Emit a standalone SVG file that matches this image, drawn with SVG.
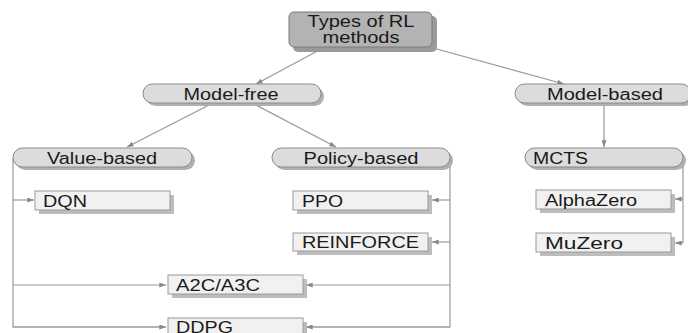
<svg xmlns="http://www.w3.org/2000/svg" width="688" height="333" viewBox="0 0 688 333">
<defs>
<marker id="ah" viewBox="0 0 8 6" refX="8" refY="3" markerWidth="7" markerHeight="5" orient="auto" markerUnits="userSpaceOnUse">
<path d="M0,0 L8,3 L0,6 Z" fill="#888"/>
</marker>
</defs>
<style>
.t{font-family:"Liberation Sans",Arial,sans-serif;font-size:16px;fill:#1a1a1a}
.pill{fill:#dcdcdc;stroke:#8a8a8a;stroke-width:1}
.psh{fill:#b0b0b0}
.box{fill:#f1f1f1;stroke:#9a9a9a;stroke-width:1}
.bsh{fill:#bdbdbd}
.root{fill:#b3b3b3;stroke:#7a7a7a;stroke-width:1}
.rsh{fill:#9a9a9a}
.c{fill:none;stroke:#999;stroke-width:1.2}
.ca{fill:none;stroke:#999;stroke-width:1.2;marker-end:url(#ah)}
</style>
<rect width="688" height="333" fill="#fff"/>
<g id="connectors">
<path class="ca" d="M323,48 L256,84"/>
<path class="ca" d="M433,48 L564,84"/>
<path class="ca" d="M213,103 L127,147"/>
<path class="ca" d="M252,103 L336,147"/>
<path class="ca" d="M604,103 L604,147"/>
<path class="c" d="M13,158 V327 H166"/>
<path class="ca" d="M13,200 H34"/>
<path class="ca" d="M13,285 H166"/>
<path class="ca" d="M13,327 H166"/>
<path class="c" d="M450,158 V327 H306"/>
<path class="ca" d="M450,200 H432"/>
<path class="ca" d="M450,242 H432"/>
<path class="ca" d="M450,285 H306"/>
<path class="ca" d="M450,327 H306"/>
<path class="c" d="M683,158 V243"/>
<path class="ca" d="M683,199 H675"/>
<path class="ca" d="M683,243 H675"/>
</g>
<g id="root">
<rect class="rsh" x="293" y="16" width="144" height="36" rx="5"/>
<rect class="root" x="289" y="12" width="143" height="35" rx="5"/>
<text class="t" x="361" y="27" text-anchor="middle" textLength="107" lengthAdjust="spacingAndGlyphs">Types of RL</text>
<text class="t" x="361" y="43" text-anchor="middle" textLength="77" lengthAdjust="spacingAndGlyphs">methods</text>
</g>
<g id="model-free">
<rect class="psh" x="146" y="87" width="178" height="19" rx="9.5"/>
<rect class="pill" x="143" y="84" width="178" height="19" rx="9.5"/>
<text class="t" x="231" y="99.5" text-anchor="middle" textLength="95" lengthAdjust="spacingAndGlyphs">Model-free</text>
</g>
<g id="model-based">
<rect class="psh" x="518" y="87" width="176" height="19" rx="9.5"/>
<rect class="pill" x="515" y="84" width="176" height="19" rx="9.5"/>
<text class="t" x="605" y="99.5" text-anchor="middle" textLength="116" lengthAdjust="spacingAndGlyphs">Model-based</text>
</g>
<g id="value-based">
<rect class="psh" x="16" y="151" width="179" height="19" rx="9.5"/>
<rect class="pill" x="13" y="148" width="179" height="19" rx="9.5"/>
<text class="t" x="102" y="163.5" text-anchor="middle" textLength="110" lengthAdjust="spacingAndGlyphs">Value-based</text>
</g>
<g id="policy-based">
<rect class="psh" x="275" y="151" width="178" height="19" rx="9.5"/>
<rect class="pill" x="272" y="148" width="178" height="19" rx="9.5"/>
<text class="t" x="361" y="163.5" text-anchor="middle" textLength="115" lengthAdjust="spacingAndGlyphs">Policy-based</text>
</g>
<g id="mcts">
<rect class="psh" x="528" y="151" width="158" height="19" rx="9.5"/>
<rect class="pill" x="525" y="148" width="158" height="19" rx="9.5"/>
<text class="t" x="533" y="163.5" textLength="55" lengthAdjust="spacingAndGlyphs">MCTS</text>
</g>
<g id="dqn">
<rect class="bsh" x="39" y="195" width="135" height="19"/>
<rect class="box" x="35" y="191" width="135" height="19"/>
<text class="t" x="43" y="206.5" textLength="44" lengthAdjust="spacingAndGlyphs">DQN</text>
</g>
<g id="ppo">
<rect class="bsh" x="297" y="195" width="135" height="19"/>
<rect class="box" x="293" y="191" width="135" height="19"/>
<text class="t" x="302" y="206.5" textLength="41" lengthAdjust="spacingAndGlyphs">PPO</text>
</g>
<g id="reinforce">
<rect class="bsh" x="297" y="237" width="135" height="18"/>
<rect class="box" x="293" y="233" width="135" height="18"/>
<text class="t" x="302" y="248" textLength="117" lengthAdjust="spacingAndGlyphs">REINFORCE</text>
</g>
<g id="alphazero">
<rect class="bsh" x="540" y="194" width="135" height="19"/>
<rect class="box" x="536" y="190" width="135" height="19"/>
<text class="t" x="545" y="205.5" textLength="92" lengthAdjust="spacingAndGlyphs">AlphaZero</text>
</g>
<g id="muzero">
<rect class="bsh" x="540" y="237" width="135" height="19"/>
<rect class="box" x="536" y="233" width="135" height="19"/>
<text class="t" x="545" y="248.5" textLength="78" lengthAdjust="spacingAndGlyphs">MuZero</text>
</g>
<g id="a2c">
<rect class="bsh" x="172" y="279" width="135" height="19"/>
<rect class="box" x="168" y="275" width="135" height="19"/>
<text class="t" x="176" y="290.5" textLength="84" lengthAdjust="spacingAndGlyphs">A2C/A3C</text>
</g>
<g id="ddpg">
<rect class="bsh" x="172" y="322" width="135" height="19"/>
<rect class="box" x="168" y="318" width="135" height="19"/>
<text class="t" x="176" y="333" textLength="57" lengthAdjust="spacingAndGlyphs">DDPG</text>
</g>
</svg>
